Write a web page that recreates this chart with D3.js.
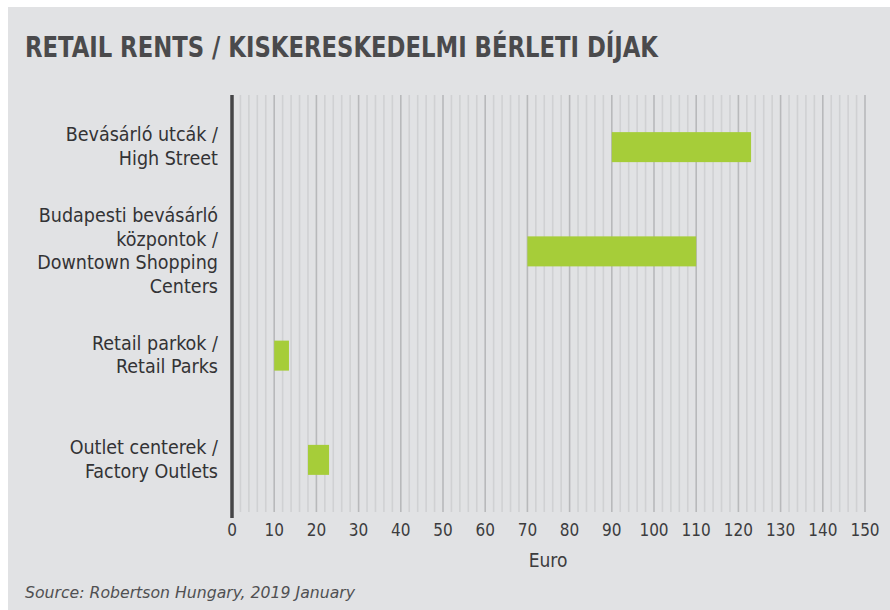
<!DOCTYPE html>
<html>
<head>
<meta charset="utf-8">
<script src="https://cdn.jsdelivr.net/npm/d3@7"></script>
<style>
  body { margin: 0; background: #fff; }
  svg { display: block; }
</style>
</head>
<body>
<svg width="890" height="610"></svg>
<script>
// categories (each label split into lines) and the rent range per category
const categories = [
  ['Bevásárló utcák /', 'High Street'],
  ['Budapesti bevásárló', 'központok /', 'Downtown Shopping', 'Centers'],
  ['Retail parkok /', 'Retail Parks'],
  ['Outlet centerek /', 'Factory Outlets']
];
const rentLow  = [90, 70, 10, 18];
const rentHigh = [123, 110, 13.5, 23];
const xTicks = d3.range(0, 151, 10);

const svg = d3.select('svg');
const font = '"DejaVu Sans Condensed", "DejaVu Sans", sans-serif';

svg.append('rect')
  .attr('x', 8).attr('y', 7)
  .attr('width', 882).attr('height', 603)
  .attr('fill', '#e1e2e4');

svg.append('text')
  .attr('x', 25).attr('y', 57)
  .attr('font-family', font)
  .attr('font-weight', 'bold')
  .attr('font-size', 28)
  .attr('fill', '#4a4a4c')
  .attr('textLength', 633)
  .attr('lengthAdjust', 'spacingAndGlyphs')
  .text('RETAIL RENTS / KISKERESKEDELMI BÉRLETI DÍJAK');

const plotTop = 95, plotBottom = 512;

const x = d3.scaleLinear().domain([0, 150]).range([232, 865]);
const y = d3.scaleBand()
  .domain(d3.range(categories.length))
  .range([plotTop, plotBottom]);

// grid: minor every 2, major every 10
const g = svg.append('g');
g.selectAll('.minor')
  .data(d3.range(2, 151, 2).filter(v => v % 10 !== 0))
  .enter().append('line')
    .attr('class', 'minor')
    .attr('x1', d => x(d)).attr('x2', d => x(d))
    .attr('y1', plotTop).attr('y2', plotBottom)
    .attr('stroke', '#d0d1d3')
    .attr('stroke-width', 1.6);

g.selectAll('.major')
  .data(xTicks.slice(1))
  .enter().append('line')
    .attr('class', 'major')
    .attr('x1', d => x(d)).attr('x2', d => x(d))
    .attr('y1', plotTop).attr('y2', plotBottom)
    .attr('stroke', '#b8b9bb')
    .attr('stroke-width', 1.6);

// bars
const barH = 30;
svg.selectAll('.bar')
  .data(categories.map((c, i) => ({ i, lo: rentLow[i], hi: rentHigh[i] })))
  .enter().append('rect')
    .attr('class', 'bar')
    .attr('x', d => x(d.lo))
    .attr('width', d => x(d.hi) - x(d.lo))
    .attr('y', d => y(d.i) + y.bandwidth() / 2 - barH / 2)
    .attr('height', barH)
    .attr('fill', '#a6cd39');

// axis line
svg.append('line')
  .attr('x1', x(0)).attr('x2', x(0))
  .attr('y1', plotTop).attr('y2', plotBottom + 6)
  .attr('stroke', '#454547')
  .attr('stroke-width', 3.5);

// category labels
const lineH = 23.5;
const labels = svg.selectAll('.cat')
  .data(categories)
  .enter().append('text')
    .attr('class', 'cat')
    .attr('font-family', font)
    .attr('font-size', 19.5)
    .attr('fill', '#333335')
    .attr('text-anchor', 'end');

labels.each(function (lines, i) {
  const cy = y(i) + y.bandwidth() / 2;
  const y0 = cy - (lines.length - 1) * lineH / 2 + 6;
  d3.select(this).selectAll('tspan')
    .data(lines)
    .enter().append('tspan')
      .attr('x', 218)
      .attr('y', (d, j) => y0 + j * lineH)
      .text(d => d);
});

// tick labels
svg.selectAll('.tick')
  .data(xTicks)
  .enter().append('text')
    .attr('class', 'tick')
    .attr('x', d => x(d))
    .attr('y', 536)
    .attr('text-anchor', 'middle')
    .attr('font-family', font)
    .attr('font-size', 17)
    .attr('fill', '#3c3c3e')
    .text(d => d);

svg.append('text')
  .attr('x', 548).attr('y', 567)
  .attr('text-anchor', 'middle')
  .attr('font-family', font)
  .attr('font-size', 19)
  .attr('fill', '#3c3c3e')
  .text('Euro');

svg.append('text')
  .attr('x', 25).attr('y', 598)
  .attr('font-family', font)
  .attr('font-style', 'italic')
  .attr('font-size', 16)
  .attr('fill', '#505052')
  .attr('textLength', 330)
  .attr('lengthAdjust', 'spacingAndGlyphs')
  .text('Source: Robertson Hungary, 2019 January');
</script>
</body>
</html>
